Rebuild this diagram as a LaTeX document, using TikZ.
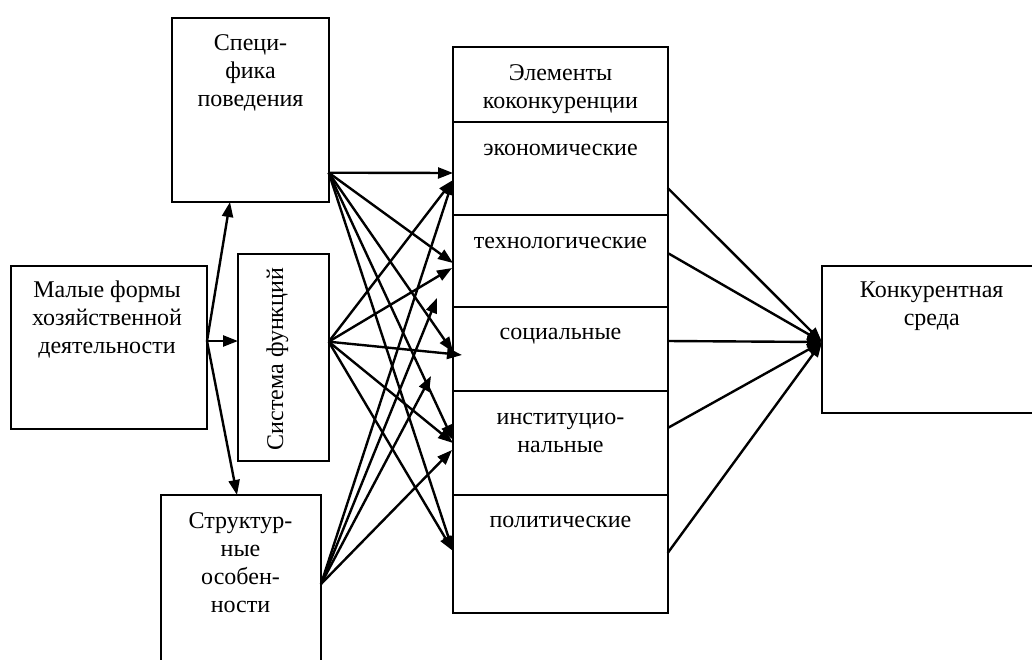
\documentclass[tikz,border=0pt]{standalone}
\usepackage{fontspec}
\setmainfont{Liberation Serif}
\usetikzlibrary{arrows.meta}
\newcommand\stk[1]{\vtop{\halign{\hfil##\hfil\cr#1\crcr}}}
\begin{document}
\begin{tikzpicture}[x=1pt,y=-1pt,
  box/.style={draw, line width=2pt, inner sep=0pt, outer sep=0pt},
  txt/.style={anchor=base, inner sep=0pt, font=\fontsize{24}{28}\selectfont},
  arr/.style={-{Triangle[length=15pt,width=11pt]}, line width=2.4pt}]
\useasboundingbox (0,0) rectangle (1032,659);
\clip (0,0) rectangle (1032,659);

% boxes
\node[box, minimum width=156.4pt, minimum height=184.3pt] (spec) at (250.5,109.85) {};
\node[box, minimum width=195.7pt, minimum height=163.3pt] (malye) at (108.85,347.35) {};
\node[box, minimum width=91pt, minimum height=206.4pt] (sist) at (283.2,357.5) {};
\node[box, minimum width=159.7pt, minimum height=185pt] (strukt) at (240.85,587.5) {};
\node[box, minimum width=214.4pt, minimum height=74.4pt] (head) at (560.5,84.5) {};
\node[box, minimum width=214.4pt, minimum height=93.3pt] (econ) at (560.5,168.35) {};
\node[box, minimum width=214.4pt, minimum height=91.7pt] (tech) at (560.5,260.85) {};
\node[box, minimum width=214.4pt, minimum height=84pt] (soc) at (560.5,348.7) {};
\node[box, minimum width=214.4pt, minimum height=104.3pt] (inst) at (560.5,442.85) {};
\node[box, minimum width=214.4pt, minimum height=118.3pt] (pol) at (560.5,554.15) {};
\node[box, minimum width=223.3pt, minimum height=147.6pt] (konk) at (933.35,339.5) {};

% texts
\node[txt] (spect) at (250.5,50) {\stk{Специ-\cr фика\cr поведения}};
\node[txt] (malyet) at (107,297.7) {\stk{Малые формы\cr хозяйственной\cr деятельности}};
\node[txt, rotate=90] (sistt) at (283,359) {Система функций};
\node[txt] (struktt) at (240.5,528.3) {\stk{Структур-\cr ные\cr особен-\cr ности}};
\node[txt] (headt) at (560.5,80.7) {\stk{Элементы\cr коконкуренции}};
\node[txt] (econt) at (560.5,155) {экономические};
\node[txt] (techt) at (560.5,248.3) {технологические};
\node[txt] (soct) at (560.5,339) {социальные};
\node[txt] (instt) at (560.5,424) {\stk{институцио-\cr нальные}};
\node[txt] (polt) at (560.5,527.3) {политические};
\node[txt] (konkt) at (931.7,297.7) {\stk{Конкурентная\cr среда}};

% connection points
\coordinate (m0) at (207,341);
\coordinate (specin) at (230,202);
\coordinate (sistin) at (238,341);
\coordinate (strin) at (237,495);
\coordinate (so) at (328.7,172.7);
\coordinate (to) at (328.7,341.7);
\coordinate (uo) at (321,584);
\coordinate (ea) at (453,173);
\coordinate (eb) at (453,180);
\coordinate (ta) at (453,263);
\coordinate (tb) at (452,268);
\coordinate (sa) at (453,352);
\coordinate (sb) at (462,355);
\coordinate (ia) at (453,440);
\coordinate (ib) at (453,443);
\coordinate (ic) at (452,450);
\coordinate (pa) at (453,551);
\coordinate (xa) at (437,298);
\coordinate (xb) at (431,376);
\coordinate (k0) at (822,342);
\coordinate (r1) at (667.7,188);
\coordinate (r2) at (667.7,253);
\coordinate (r3) at (667.7,341);
\coordinate (r4) at (667.7,428);
\coordinate (r5) at (667.7,553);

% arrows from Malye
\draw[arr] (m0) -- (specin);
\draw[arr] (m0) -- (sistin);
\draw[arr] (m0) -- (strin);
% from Specifika
\draw[arr] (so) -- (ea);
\draw[arr] (so) -- (ta);
\draw[arr] (so) -- (sa);
\draw[arr] (so) -- (ia);
\draw[arr] (so) -- (pa);
% from Sistema
\draw[arr] (to) -- (eb);
\draw[arr] (to) -- (tb);
\draw[arr] (to) -- (sb);
\draw[arr] (to) -- (ib);
\draw[arr] (to) -- (pa);
% from Strukturnye
\draw[arr] (uo) -- (eb);
\draw[arr] (uo) -- (xa);
\draw[arr] (uo) -- (xb);
\draw[arr] (uo) -- (ic);
% to Konkurent
\draw[arr] (r1) -- (k0);
\draw[arr] (r2) -- (k0);
\draw[arr] (r3) -- (k0);
\draw[arr] (r4) -- (k0);
\draw[arr] (r5) -- (k0);
\end{tikzpicture}
\end{document}
